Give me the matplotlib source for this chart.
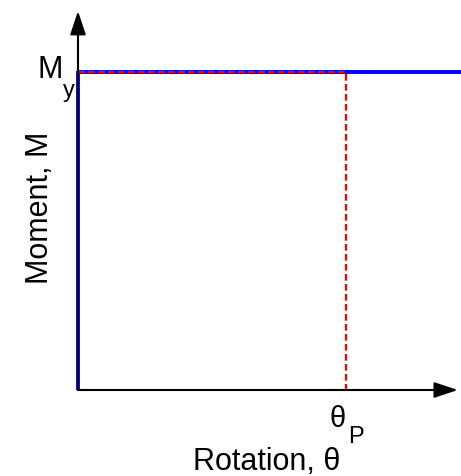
import matplotlib
matplotlib.use("Agg")
import matplotlib.pyplot as plt

plt.rcParams['font.family'] = ['Liberation Sans', 'DejaVu Sans']

# idealised elastic-perfectly-plastic moment-rotation curve
theta_p = 1.0
M_y = 1.0
blue_x = [0, 0, 1.43]
blue_y = [0, M_y, M_y]
red_x = [0, theta_p, theta_p]
red_y = [M_y, M_y, 0]

fig = plt.figure(figsize=(4.61, 4.77), dpi=100)
ax = fig.add_axes([78/461, 86/477, 383/461, 391/477])
ax.set_xlim(0, 1.43)
ax.set_ylim(0, 1.23)
ax.axis('off')

arrow = dict(arrowstyle='-|>,head_length=0.6,head_width=0.2', color='black', lw=1.5,
             mutation_scale=24, shrinkA=0, shrinkB=0)
ax.annotate('', xy=(1.418, 0), xytext=(0, 0), arrowprops=arrow, annotation_clip=False)
ax.annotate('', xy=(0, 1.192), xytext=(0, 0), arrowprops=arrow, annotation_clip=False)

ax.plot(blue_x, blue_y, color='#0000ff', lw=2.8, clip_on=False, solid_capstyle='butt')
ax.plot(red_x, red_y, color='#ff0000', lw=1.6, ls=(0, (3, 1.5)), clip_on=False)

ax.text(-0.153, 0.984, 'M', fontsize=22, va='baseline', ha='left')
ax.text(-0.057, 0.925, 'y', fontsize=17, va='baseline', ha='left')
ax.text(-0.142, 0.575, 'Moment, M', fontsize=22, rotation=90, va='center', ha='center')
ax.text(0.94, -0.113, 'θ', fontsize=21, va='baseline', ha='left')
ax.text(1.007, -0.164, 'P', fontsize=17, va='baseline', ha='left')
ax.text(0.429, -0.248, 'Rotation, θ', fontsize=22, va='baseline', ha='left')

fig.savefig('out.png', dpi=100)
